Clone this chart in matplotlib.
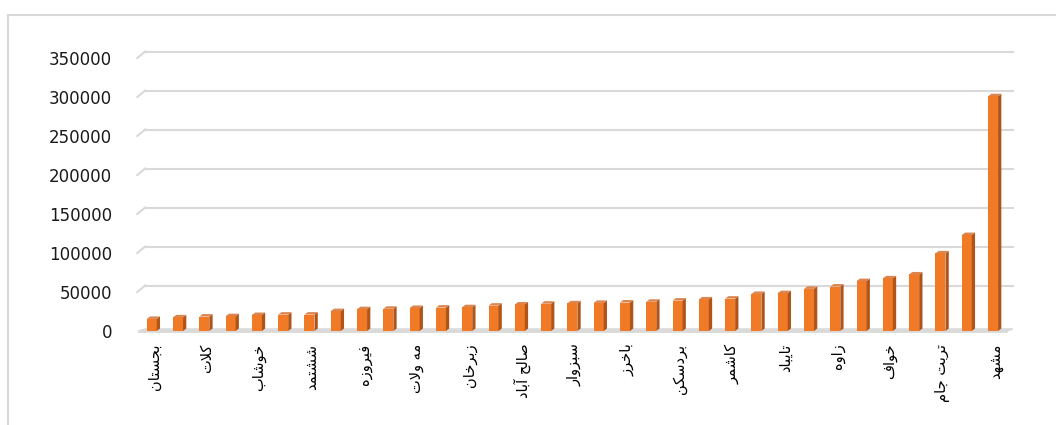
import numpy as np
import matplotlib.pyplot as plt
from matplotlib.patches import Polygon, Rectangle

# city labels (shown on every second bar) and values for all 33 bars
cities = ['بجستان', 'کلات', 'خوشاب', 'ششتمد', 'فیروزه', 'مه ولات', 'زبرخان',
          'صالح آباد', 'سبزوار', 'باخرز', 'بردسکن', 'کاشمر', 'تایباد', 'زاوه',
          'خواف', 'تربت جام', 'مشهد']
values = [15500, 17500, 18500, 19000, 20500, 21000, 21000, 25500, 28000, 28500,
          29500, 30000, 30500, 32500, 34000, 35000, 35500, 36000, 36500, 37500,
          39000, 40500, 41500, 47500, 48500, 54000, 57000, 64000, 67500, 72500,
          99500, 123000, 301000]
yticks = [0, 50000, 100000, 150000, 200000, 250000, 300000, 350000]

# simple arabic/persian shaping: (isolated, final, initial, medial)
FORMS = {
    'ا': ('\uFE8D', '\uFE8E', None, None),
    'آ': ('\uFE81', '\uFE82', None, None),
    'ب': ('\uFE8F', '\uFE90', '\uFE91', '\uFE92'),
    'ت': ('\uFE95', '\uFE96', '\uFE97', '\uFE98'),
    'ج': ('\uFE9D', '\uFE9E', '\uFE9F', '\uFEA0'),
    'ح': ('\uFEA1', '\uFEA2', '\uFEA3', '\uFEA4'),
    'خ': ('\uFEA5', '\uFEA6', '\uFEA7', '\uFEA8'),
    'د': ('\uFEA9', '\uFEAA', None, None),
    'ر': ('\uFEAD', '\uFEAE', None, None),
    'ز': ('\uFEAF', '\uFEB0', None, None),
    'س': ('\uFEB1', '\uFEB2', '\uFEB3', '\uFEB4'),
    'ش': ('\uFEB5', '\uFEB6', '\uFEB7', '\uFEB8'),
    'ص': ('\uFEB9', '\uFEBA', '\uFEBB', '\uFEBC'),
    'ف': ('\uFED1', '\uFED2', '\uFED3', '\uFED4'),
    'ل': ('\uFEDD', '\uFEDE', '\uFEDF', '\uFEE0'),
    'م': ('\uFEE1', '\uFEE2', '\uFEE3', '\uFEE4'),
    'ن': ('\uFEE5', '\uFEE6', '\uFEE7', '\uFEE8'),
    'ه': ('\uFEE9', '\uFEEA', '\uFEEB', '\uFEEC'),
    'و': ('\uFEED', '\uFEEE', None, None),
    'ک': ('\uFB8E', '\uFB8F', '\uFB90', '\uFB91'),
    'ی': ('\uFBFC', '\uFBFD', '\uFBFE', '\uFBFF'),
}


def shape(word):
    out = []
    i = 0
    n = len(word)
    while i < n:
        c = word[i]
        if c not in FORMS:
            out.append(c)
            i += 1
            continue
        prev = word[i - 1] if i > 0 else None
        jp = prev in FORMS and FORMS[prev][2] is not None
        nxt = word[i + 1] if i + 1 < n else None
        if c == 'ل' and nxt == 'ا':
            out.append('\uFEFC' if jp else '\uFEFB')
            i += 2
            continue
        jn = nxt in FORMS and FORMS[c][2] is not None
        f = FORMS[c]
        if jp and jn:
            out.append(f[3])
        elif jp:
            out.append(f[1])
        elif jn:
            out.append(f[2])
        else:
            out.append(f[0])
        i += 1
    return ''.join(reversed(out))


W, H = 1056, 425
fig = plt.figure(figsize=(W / 100, H / 100), dpi=100)
ax = fig.add_axes([138.6 / W, (H - 331) / H, (1006.2 - 138.6) / W, 273 / H])
ax.set_xlim(-0.5, 32.5)
ax.set_ylim(0, 350000)

x = np.arange(len(values))
bw = 0.38
dx, dy = 0.125, 3200      # bar depth
gx, gy = 0.25, 8300       # wall depth
grid_c = '#D9D9D9'

# back wall gridlines + left wall diagonals
for v in yticks[1:]:
    ax.plot([-0.5 - 0.05, -0.5 + gx], [v, v + gy], color=grid_c, lw=1.5, clip_on=False, zorder=1)
    ax.plot([-0.5 + gx, 32.5 + gx], [v + gy, v + gy], color=grid_c, lw=1.5, clip_on=False, zorder=1)

# floor
floor = Polygon([[-0.5, 0], [32.5, 0], [32.5 + gx, gy * 0.3], [-0.5 + gx, gy * 0.3]],
                closed=True, facecolor='#F4F4F4', edgecolor=grid_c, lw=1.2, clip_on=False, zorder=1)
ax.add_patch(floor)
ax.plot([-0.5, 32.5], [0, 0], color=grid_c, lw=2.0, clip_on=False, zorder=1.5)

# bars: front face, side, top
ax.bar(x, values, width=bw, color='#F07A26', zorder=3)
for xi, v in zip(x, values):
    side = Polygon([[xi + bw / 2, 0], [xi + bw / 2 + dx, dy], [xi + bw / 2 + dx, v + dy], [xi + bw / 2, v]],
                   closed=True, facecolor='#B0541A', edgecolor='none', zorder=3)
    top = Polygon([[xi - bw / 2, v], [xi + bw / 2, v], [xi + bw / 2 + dx, v + dy], [xi - bw / 2 + dx, v + dy]],
                  closed=True, facecolor='#DB8550', edgecolor='none', zorder=3)
    ax.add_patch(side)
    ax.add_patch(top)

for s in ax.spines.values():
    s.set_visible(False)

ax.set_yticks(yticks)
ax.set_yticklabels([str(v) for v in yticks], fontsize=12, color='#1a1a1a')
ax.tick_params(axis='y', length=0, pad=19)

ax.set_xticks(x[::2] + 0.08)
ax.set_xticklabels([shape(c) for c in cities], rotation=90, fontsize=10.5,
                   family='DejaVu Sans', color='black')
ax.tick_params(axis='x', length=0, pad=9)

# chart area border (only top and left visible)
fig.add_artist(Rectangle((8 / W, -0.1), 1.2, 1 - 15 / H + 0.1, transform=fig.transFigure,
                         fill=False, edgecolor=grid_c, lw=1.5))

fig.savefig('out.png', dpi=100)
